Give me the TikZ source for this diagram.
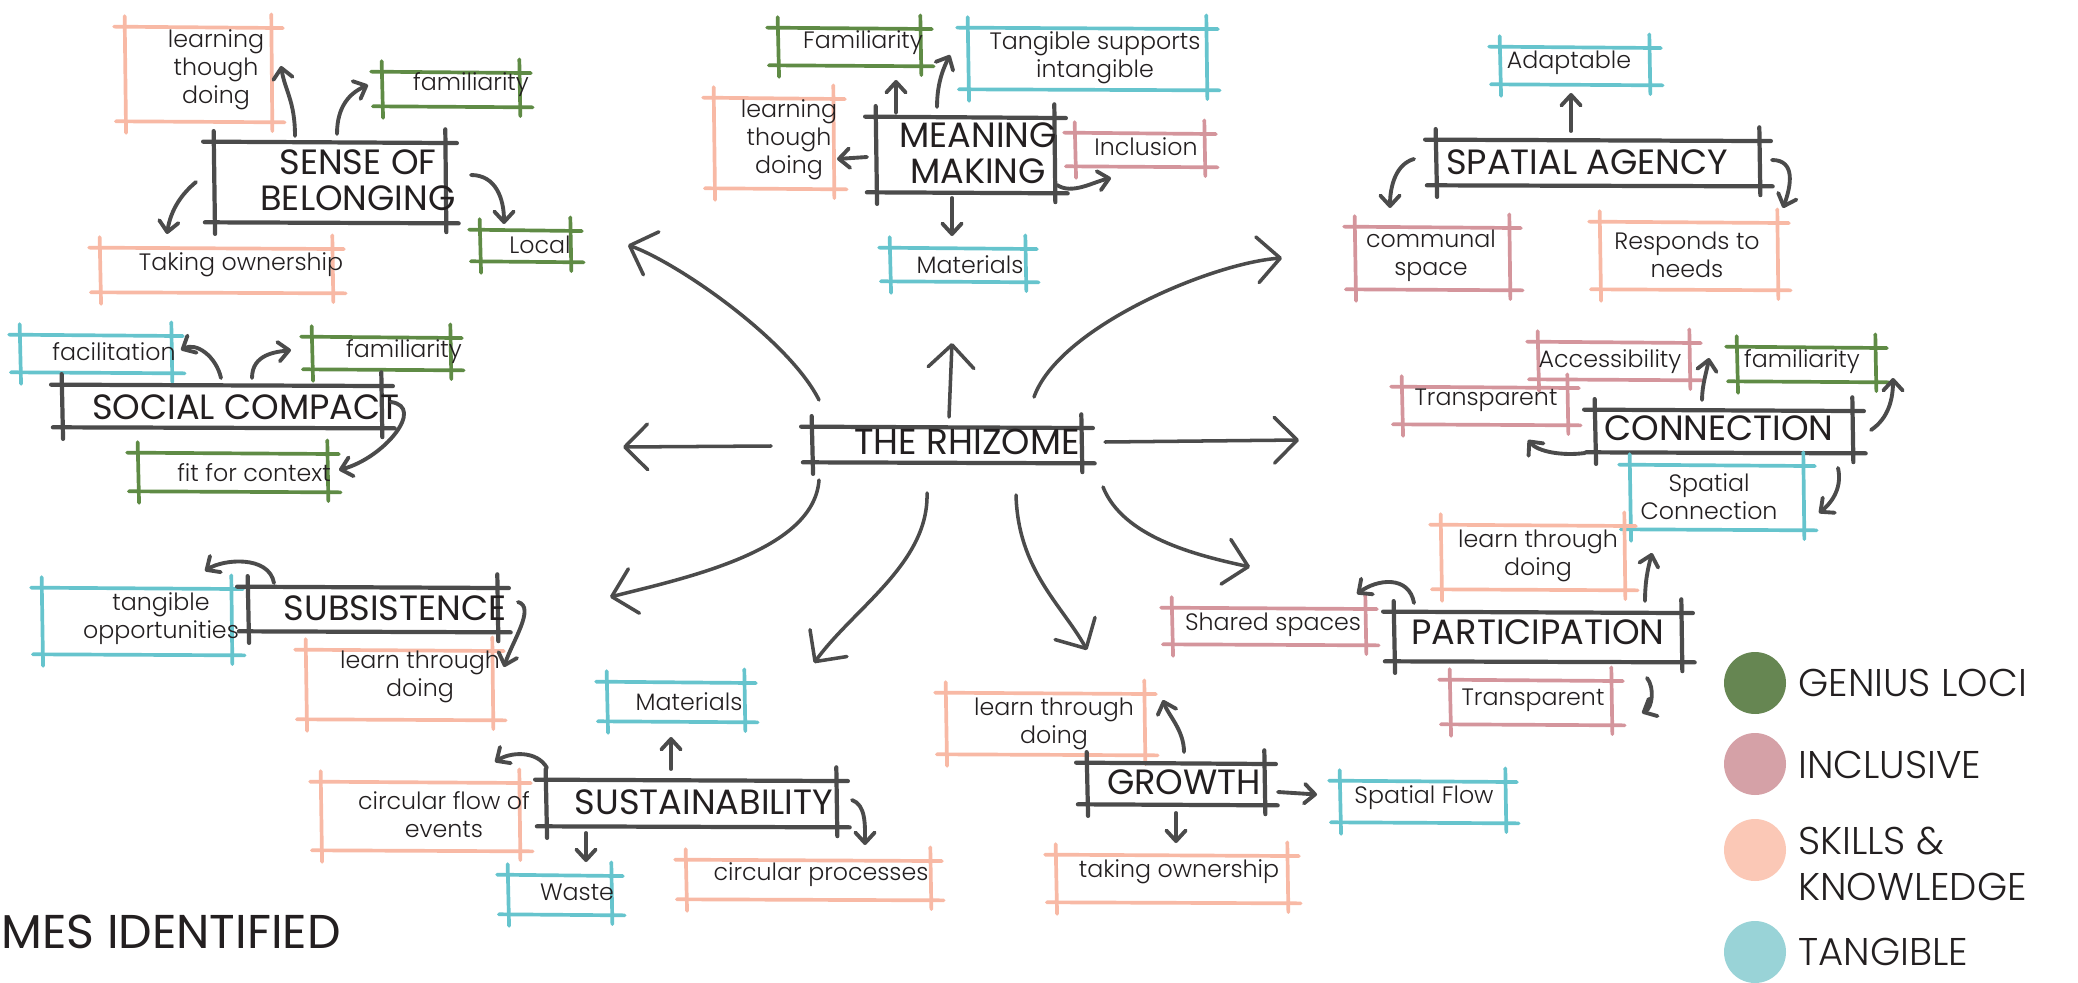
\documentclass[tikz,border=0pt]{standalone}
\usepackage{fontspec}
\usetikzlibrary{arrows.meta,calc,fit}
\setmainfont{Poppins}
\IfFontExistsTF{Poppins Light}{\newfontfamily\lightf{Poppins Light}}{\newfontfamily\lightf{Poppins}}
\newfontfamily\medf{Poppins}
\definecolor{dk}{HTML}{4B4B4B}
\definecolor{txt}{HTML}{231F20}
\definecolor{gS}{HTML}{5F8B45}
\definecolor{pS}{HTML}{D4959C}
\definecolor{sS}{HTML}{F8B9A5}
\definecolor{bS}{HTML}{66C4CD}
\definecolor{gL}{HTML}{668652}
\definecolor{pL}{HTML}{D5A1A7}
\definecolor{sL}{HTML}{FBC8B6}
\definecolor{bL}{HTML}{99D3D7}
\tikzset{
  sk/.style 2 args={inner sep=0pt, append after command={
    ([xshift=-6pt]\tikzlastnode.north west) edge[draw=#1,line width=#2,line cap=round] ([xshift=6pt,yshift=-0.8pt]\tikzlastnode.north east)
    ([xshift=-5pt,yshift=0.6pt]\tikzlastnode.south west) edge[draw=#1,line width=#2,line cap=round] ([xshift=7pt]\tikzlastnode.south east)
    ([yshift=6pt]\tikzlastnode.north west) edge[draw=#1,line width=#2,line cap=round] ([xshift=0.8pt,yshift=-6pt]\tikzlastnode.south west)
    ([xshift=-0.6pt,yshift=7pt]\tikzlastnode.north east) edge[draw=#1,line width=#2,line cap=round] ([yshift=-5pt]\tikzlastnode.south east)
  }},
  gbox/.style={sk={gS}{2.1pt}},
  pbox/.style={sk={pS}{2.1pt}},
  sbox/.style={sk={sS}{2.1pt}},
  tbox/.style={sk={bS}{2.1pt}},
  dbox/.style={sk={dk}{2.4pt}},
  lab/.style={font=\lightf\fontsize{13.5}{16}\selectfont, align=center, text=txt, inner sep=0pt},
  ttl/.style={font=\medf\fontsize{20}{20.5}\selectfont, align=center, text=txt, inner sep=0pt},
  leg/.style={font=\lightf\fontsize{22}{26.5}\selectfont, align=left, text=txt, inner sep=0pt, anchor=west},
  dot/.style={circle, inner sep=0pt, minimum size=1.24cm},
  arr/.style={draw=dk, line width=2.2pt, line cap=round, -{Straight Barb[length=6pt,width=11pt,round]}},
  big/.style={draw=dk, line width=2pt, line cap=round, -{Straight Barb[length=13pt,width=26pt,round]}}
}
\begin{document}
\begin{tikzpicture}[x=0.02cm,y=-0.02cm]
\useasboundingbox[fill=white] (0,0) rectangle (2078,983);

% ---------- boxes ----------
% Sense of belonging
\node[sbox, fit={(125,27) (272,122)}] (lt1) {};
\node[gbox, fit={(382,72) (520,107)}] (fam1) {};
\node[dbox, fit={(214,142) (446,223)}] (sob) {};
\node[sbox, fit={(100,248) (333,293)}] (own1) {};
\node[gbox, fit={(480,230) (571,262)}] (loc1) {};
% Meaning making
\node[gbox, fit={(778,28) (921,66)}] (fam2) {};
\node[tbox, fit={(968,28) (1207,90)}] (tan2) {};
\node[sbox, fit={(714,98) (834,189)}] (lt2) {};
\node[dbox, fit={(876,117) (1055,193)}] (mm) {};
\node[pbox, fit={(1075,133) (1205,167)}] (inc2) {};
\node[tbox, fit={(890,248) (1026,282)}] (mat2) {};
% Spatial agency
\node[tbox, fit={(1500,47) (1650,85)}] (ad3) {};
\node[dbox, fit={(1436,140) (1760,186)}] (sa) {};
\node[pbox, fit={(1355,227) (1510,290)}] (cs3) {};
\node[sbox, fit={(1600,222) (1778,290)}] (rn3) {};
% Social compact
\node[tbox, fit={(20,335) (172,373)}] (fac4) {};
\node[gbox, fit={(312,337) (451,370)}] (fam4) {};
\node[dbox, fit={(62,385) (382,428)}] (sc) {};
\node[gbox, fit={(138,453) (328,492)}] (fit4) {};
% Subsistence
\node[tbox, fit={(42,588) (232,655)}] (to5) {};
\node[dbox, fit={(248,587) (498,632)}] (sub) {};
\node[sbox, fit={(306,650) (493,720)}] (lt5) {};
% Connection
\node[pbox, fit={(1538,342) (1690,380)}] (acc6) {};
\node[gbox, fit={(1737,347) (1876,382)}] (fam6) {};
\node[pbox, fit={(1402,387) (1568,425)}] (tr6) {};
\node[dbox, fit={(1595,410) (1853,453)}] (con) {};
\node[tbox, fit={(1630,465) (1804,530)}] (sc6) {};
% Participation
\node[sbox, fit={(1441,525) (1625,590)}] (lt7) {};
\node[pbox, fit={(1172,608) (1366,645)}] (ss7) {};
\node[dbox, fit={(1394,612) (1682,662)}] (par) {};
\node[pbox, fit={(1450,680) (1612,725)}] (tr7) {};
% Sustainability
\node[tbox, fit={(607,682) (745,722)}] (mat8) {};
\node[dbox, fit={(546,780) (837,827)}] (sus) {};
\node[tbox, fit={(508,875) (612,915)}] (ws8) {};
\node[sbox, fit={(686,860) (931,900)}] (cp8) {};
\node[sbox, fit={(321,782) (520,851)}] (cf8) {};
% Growth
\node[sbox, fit={(946,693) (1145,755)}] (lt9) {};
\node[dbox, fit={(1087,763) (1265,805)}] (gr) {};
\node[tbox, fit={(1340,781) (1506,823)}] (sf9) {};
\node[sbox, fit={(1056,855) (1288,903)}] (to9) {};
% Rhizome
\node[dbox, fit={(812,427) (1082,463)}] (rh) {};

% ---------- texts ----------
\node[lab] (lt1t) at (216,70) {learning\\though\\doing};
\node[lab] (fam1t) at (471,85) {familiarity};
\node[ttl] (sobt) at (358,180) {SENSE OF\\BELONGING};
\node[lab] (own1t) at (241,265) {Taking ownership};
\node[lab] (loc1t) at (540,245) {Local};
\node[lab] (fam2t) at (863,43) {Familiarity};
\node[lab] (tan2t) at (1095,58) {Tangible supports\\intangible};
\node[lab] (lt2t) at (789,140) {learning\\though\\doing};
\node[ttl] (mmt) at (978,153) {MEANING\\MAKING};
\node[lab] (inc2t) at (1146,147) {Inclusion};
\node[lab] (mat2t) at (970,265) {Materials};
\node[lab] (ad3t) at (1569,63) {Adaptable};
\node[ttl] (sat) at (1587,162) {SPATIAL AGENCY};
\node[lab] (cs3t) at (1431,256) {communal\\space};
\node[lab] (rn3t) at (1687,255) {Responds to\\needs};
\node[lab] (fac4t) at (114,352) {facilitation};
\node[lab] (fam4t) at (404,352) {familiarity};
\node[ttl] (sct) at (246,407) {SOCIAL COMPACT};
\node[lab] (fit4t) at (254,473) {fit for context};
\node[lab] (to5t) at (161,619) {tangible\\opportunities};
\node[ttl] (subt) at (395,608) {SUBSISTENCE};
\node[lab] (lt5t) at (420,677) {learn through\\doing};
\node[lab] (acc6t) at (1610,362) {Accessibility};
\node[lab] (fam6t) at (1802,362) {familiarity};
\node[lab] (tr6t) at (1486,400) {Transparent};
\node[ttl] (cont) at (1719,428) {CONNECTION};
\node[lab] (sc6t) at (1709,497) {Spatial\\Connection};
\node[lab] (lt7t) at (1538,556) {learn through\\doing};
\node[lab] (ss7t) at (1273,625) {Shared spaces};
\node[ttl] (part) at (1538,632) {PARTICIPATION};
\node[lab] (tr7t) at (1533,700) {Transparent};
\node[lab] (mat8t) at (689,702) {Materials};
\node[ttl] (sust) at (704,802) {SUSTAINABILITY};
\node[lab] (ws8t) at (577,892) {Waste};
\node[lab] (cp8t) at (821,875) {circular processes};
\node[lab] (cf8t) at (444,815) {circular flow of\\events};
\node[lab] (lt9t) at (1054,724) {learn through\\doing};
\node[ttl] (grt) at (1184,782) {GROWTH};
\node[lab] (sf9t) at (1424,798) {Spatial Flow};
\node[lab] (to9t) at (1179,872) {taking ownership};
\node[font=\medf\fontsize{20.5}{22}\selectfont, text=txt, inner sep=0pt] (rht) at (967,442) {THE RHIZOME};

% ---------- small arrows ----------
% Sense of belonging
\draw[arr] ($(sob)+(-35,-46.5)$) .. controls +(0,-35) and +(4,25) .. ($(lt1)+(82.5,-8.5)$);
\draw[arr] ($(sob)+(7,-48.5)$) .. controls +(0,-28) and +(-18,8) .. ($(fam1)+(-83,-4.5)$);
\draw[arr] ($(sob)+(141,-7.5)$) .. controls +(25,0) and +(0,-25) .. ($(loc1)+(-21.5,-22)$);
\draw[arr] ($(sob)+(-134,-0.5)$) .. controls +(-18,15) and +(3,-20) .. ($(own1)+(-49.5,-36.5)$);
% Meaning making
\draw[arr] ($(mm)+(-69.5,-42)$) -- ($(fam2)+(46.5,33)$);
\draw[arr] ($(mm)+(-28.5,-48)$) .. controls +(0,-25) and +(-6,12) .. ($(tan2)+(-137.5,-4)$);
\draw[arr] ($(mm)+(-98.5,2)$) -- ($(lt2)+(63,15.5)$);
\draw[arr] ($(mm)+(-13.5,43)$) -- ($(mat2)+(-6,-29)$);
\draw[arr] ($(mm)+(91.5,30)$) .. controls +(15,10) and +(-18,4) .. ($(inc2)+(-29,28)$);
% Spatial agency
\draw[arr] ($(sa)+(-27,-32)$) -- ($(ad3)+(-4,27)$);
\draw[arr] ($(sa)+(-184,-4)$) .. controls +(-18,5) and +(0,-22) .. ($(cs3)+(-42.5,-50.5)$);
\draw[arr] ($(sa)+(174,-3)$) .. controls +(24,0) and +(8,-22) .. ($(rn3)+(94,-48)$);
% Social compact
\draw[arr] ($(sc)+(-1,-28.5)$) .. controls +(-5,-22) and +(15,-8) .. ($(fac4)+(85,-4)$);
\draw[arr] ($(sc)+(30,-28.5)$) .. controls +(0,-24) and +(-15,2) .. ($(fam4)+(-90.5,-3.5)$);
\draw[arr] ($(sc)+(169,-4.5)$) .. controls +(35,5) and +(45,-12) .. ($(fit4)+(106,-2.5)$);
% Subsistence
\draw[arr] ($(sub)+(-99,-26.5)$) .. controls +(-5,-28) and +(18,-12) .. ($(to5)+(68,-50.5)$);
\draw[arr] ($(sub)+(145,-7.5)$) .. controls +(18,5) and +(8,-25) .. ($(lt5)+(104.5,-18)$);
% Connection
\draw[arr] ($(con)+(-22,-31.5)$) .. controls +(0,-15) and +(-2,12) .. ($(acc6)+(95,-3)$);
\draw[arr] ($(con)+(-139,21.5)$) .. controls +(-22,3) and +(10,12) .. ($(tr6)+(43,34)$);
\draw[arr] ($(con)+(147,-1.5)$) .. controls +(18,-12) and +(0,20) .. ($(fam6)+(86.5,13.5)$);
\draw[arr] ($(con)+(114,36.5)$) .. controls +(5,22) and +(10,-8) .. ($(sc6)+(102,15.5)$);
% Participation
\draw[arr] ($(par)+(-124,-34)$) .. controls +(-5,-28) and +(20,-15) .. ($(ss7)+(88,-32.5)$);
\draw[arr] ($(par)+(107,-36)$) .. controls +(0,-20) and +(-4,15) .. ($(lt7)+(119,-4.5)$);
\draw[arr] ($(par)+(109,41)$) .. controls +(8,10) and +(10,-5) .. ($(tr7)+(111,10.5)$);
% Sustainability
\draw[arr] ($(sus)+(-20.5,-34.5)$) -- ($(mat8)+(-5,35)$);
\draw[arr] ($(sus)+(-144.5,-35.5)$) .. controls +(-10,-18) and +(15,-10) .. ($(cf8)+(74.5,-54.5)$);
\draw[arr] ($(sus)+(-105.5,29.5)$) -- ($(ws8)+(26,-33)$);
\draw[arr] ($(sus)+(160.5,-3.5)$) .. controls +(14,5) and +(0,-20) .. ($(cp8)+(56.5,-35)$);
% Growth
\draw[arr] ($(gr)+(8,-32)$) .. controls +(0,-22) and +(5,15) .. ($(lt9)+(117.5,-24)$);
\draw[arr] ($(gr)+(102,8)$) -- ($(sf9)+(-106,-7.5)$);
\draw[arr] ($(gr)+(0,29)$) -- ($(to9)+(4,-36)$);

% ---------- rhizome arrows ----------
\coordinate (eU) at (952,343);
\coordinate (eL) at (623,447);
\coordinate (eR) at (1299,440);
\coordinate (eUL) at (628,245);
\coordinate (eUR) at (1282,258);
\coordinate (eDL) at (610,597);
\coordinate (eD1) at (814,663);
\coordinate (eD2) at (1087,650);
\coordinate (eDR) at (1250,567);
\draw[big] ($(rh)+(2,-28)$) -- (eU);
\draw[big] ($(rh)+(-176,1)$) -- (eL);
\draw[big] ($(rh)+(158,-3)$) -- (eR);
\draw[big] ($(rh)+(-128,-45)$) .. controls +(-30,-60) and +(50,18) .. (eUL);
\draw[big] ($(rh)+(87,-48)$) .. controls +(25,-70) and +(-70,5) .. (eUR);
\draw[big] ($(rh)+(-128,35)$) .. controls +(-5,70) and +(80,-20) .. (eDL);
\draw[big] ($(rh)+(-20,48)$) .. controls +(2,70) and +(40,-55) .. (eD1);
\draw[big] ($(rh)+(69,50)$) .. controls +(2,75) and +(-25,-45) .. (eD2);
\draw[big] ($(rh)+(156,42)$) .. controls +(20,50) and +(-55,-12) .. (eDR);

% ---------- legend ----------
\node[dot, fill=gL] (d1) at (1755,683) {};
\node[dot, fill=pL] (d2) at (1755,764) {};
\node[dot, fill=sL] (d3) at (1755,850) {};
\node[dot, fill=bL] (d4) at (1755,952) {};
\node[leg] (l1) at (1798,683) {GENIUS LOCI};
\node[leg] (l2) at (1798,765) {INCLUSIVE};
\node[leg] (l3) at (1798,864) {SKILLS \&\\KNOWLEDGE};
\node[leg] (l4) at (1798,952) {TANGIBLE};

% ---------- title ----------
\node[anchor=base west, font=\medf\fontsize{27}{30}\selectfont, text=txt, inner sep=0pt] (ttl) at (1,948) {MES IDENTIFIED};
\end{tikzpicture}
\end{document}
